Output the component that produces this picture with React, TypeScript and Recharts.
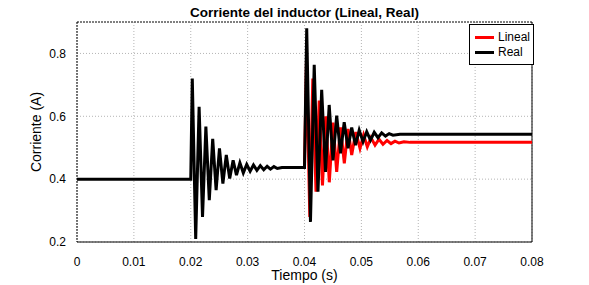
import {
  LineChart,
  Line,
  XAxis,
  YAxis,
  CartesianGrid,
  ReferenceLine,
} from "recharts";

// time (s) and current (A) before the second step (both models overlap here)
const tPre = [
  0, 0.02, 0.02027, 0.02087, 0.02147, 0.02207, 0.02266, 0.02326, 0.02386,
  0.02446, 0.02505, 0.02565, 0.02625, 0.02685, 0.02745, 0.02804, 0.02864,
  0.02924, 0.02984, 0.03044, 0.03103, 0.03163, 0.03223, 0.03283, 0.03343,
  0.03402, 0.03462, 0.03522, 0.03604, 0.04,
];
const iPre = [
  0.4, 0.4, 0.72, 0.21, 0.63, 0.28, 0.567, 0.333, 0.528, 0.365, 0.498, 0.386,
  0.477, 0.402, 0.46, 0.413, 0.452, 0.42, 0.447, 0.425, 0.445, 0.428, 0.443,
  0.43, 0.441, 0.432, 0.44, 0.434, 0.437, 0.437,
];

// after the step at 0.04 s
const tReal = [
  0.04039, 0.04105, 0.04171, 0.04237, 0.04302, 0.04369, 0.04434, 0.04501,
  0.04566, 0.04633, 0.04698, 0.04765, 0.0483, 0.04897, 0.04962, 0.05029,
  0.05094, 0.0516, 0.05226, 0.05292, 0.05357, 0.05424, 0.05489, 0.05556,
  0.05679, 0.08,
];
const iReal = [
  0.88, 0.264, 0.764, 0.36, 0.684, 0.423, 0.636, 0.46, 0.602, 0.482, 0.581,
  0.498, 0.564, 0.508, 0.556, 0.519, 0.551, 0.524, 0.549, 0.532, 0.547,
  0.537, 0.545, 0.54, 0.543, 0.543,
];

const tLineal = [
  0.04, 0.04035, 0.04093, 0.04146, 0.04202, 0.04259, 0.04316, 0.04374,
  0.04436, 0.04501, 0.04566, 0.04633, 0.047, 0.04765, 0.0483, 0.04902,
  0.04976, 0.05039, 0.05104, 0.05169, 0.0524, 0.0531, 0.0538, 0.05451,
  0.05521, 0.05591, 0.05662, 0.05749, 0.05855, 0.08,
];
const iLineal = [
  0.437, 0.78, 0.28, 0.72, 0.36, 0.65, 0.38, 0.6, 0.39, 0.58, 0.423, 0.565,
  0.45, 0.56, 0.477, 0.55, 0.498, 0.54, 0.503, 0.532, 0.508, 0.527, 0.511,
  0.523, 0.513, 0.521, 0.515, 0.519, 0.517, 0.517,
];

const xTicks = [0, 0.01, 0.02, 0.03, 0.04, 0.05, 0.06, 0.07, 0.08];
const yTicks = [0.2, 0.4, 0.6, 0.8];

const zip = (ts: number[], vs: number[]) =>
  ts.map((t, k) => ({ t, i: vs[k] }));

// red sits under black before 0.04 s, so only its own part is drawn
const realData = [...zip(tPre, iPre), ...zip(tReal, iReal)];
const linealData = zip(tLineal, iLineal);

const font = "'Liberation Sans', Arial, Helvetica, sans-serif";

function LegendBox() {
  const items = [
    { name: "Lineal", color: "#ff0000" },
    { name: "Real", color: "#000000" },
  ];
  return (
    <div
      style={{
        position: "absolute",
        left: 469,
        top: 24,
        width: 55,
        background: "#fff",
        border: "1px solid #000",
        padding: "5px 3px 4px 5px",
        fontFamily: font,
        fontSize: 12,
        lineHeight: "15px",
      }}
    >
      {items.map((it) => (
        <div key={it.name} style={{ display: "flex", alignItems: "center" }}>
          <span
            style={{
              display: "inline-block",
              width: 19,
              height: 3,
              background: it.color,
              marginRight: 4,
            }}
          />
          <span>{it.name}</span>
        </div>
      ))}
    </div>
  );
}

export default function App() {
  return (
    <div
      style={{
        position: "absolute",
        left: 0,
        top: 0,
        width: 589,
        height: 285,
        background: "#fff",
        fontFamily: font,
      }}
    >
      <div
        style={{
          position: "absolute",
          left: 77,
          width: 455,
          top: 5,
          textAlign: "center",
          fontWeight: "bold",
          fontSize: 13.5,
          color: "#000",
        }}
      >
        Corriente del inductor (Lineal, Real)
      </div>
      <LineChart
        width={589}
        height={285}
        margin={{ top: 22, right: 57, left: 0, bottom: 0 }}
      >
        <CartesianGrid
          stroke="#b4b4b4"
          strokeDasharray="1 2"
          horizontalValues={yTicks}
          verticalValues={xTicks}
        />
        <XAxis
          dataKey="t"
          type="number"
          domain={[0, 0.08]}
          ticks={xTicks}
          allowDataOverflow
          height={43}
          axisLine={{ stroke: "#000" }}
          tickLine={false}
          tickMargin={9}
          tick={{ fill: "#000", fontSize: 12, fontFamily: font }}
          label={{
            value: "Tiempo (s)",
            position: "insideBottom",
            offset: 5,
            fill: "#000",
            fontSize: 14,
            fontFamily: font,
          }}
        />
        <YAxis
          type="number"
          domain={[0.2, 0.9]}
          ticks={yTicks}
          allowDataOverflow
          width={77}
          axisLine={{ stroke: "#000", strokeDasharray: "2 1" }}
          tickLine={false}
          tickMargin={5}
          tick={{ fill: "#000", fontSize: 12, fontFamily: font }}
          label={{
            value: "Corriente (A)",
            angle: -90,
            position: "insideLeft",
            offset: 36,
            style: { textAnchor: "middle" },
            fill: "#000",
            fontSize: 14,
            fontFamily: font,
          }}
        />
        <ReferenceLine y={0.9} stroke="#000" strokeDasharray="2 1" />
        <ReferenceLine x={0.08} stroke="#000" />
        <Line
          data={linealData}
          dataKey="i"
          name="Lineal"
          type="linear"
          stroke="#ff0000"
          strokeWidth={3}
          dot={false}
          isAnimationActive={false}
        />
        <Line
          data={realData}
          dataKey="i"
          name="Real"
          type="linear"
          stroke="#000000"
          strokeWidth={3}
          dot={false}
          isAnimationActive={false}
        />
      </LineChart>
      <LegendBox />
    </div>
  );
}
